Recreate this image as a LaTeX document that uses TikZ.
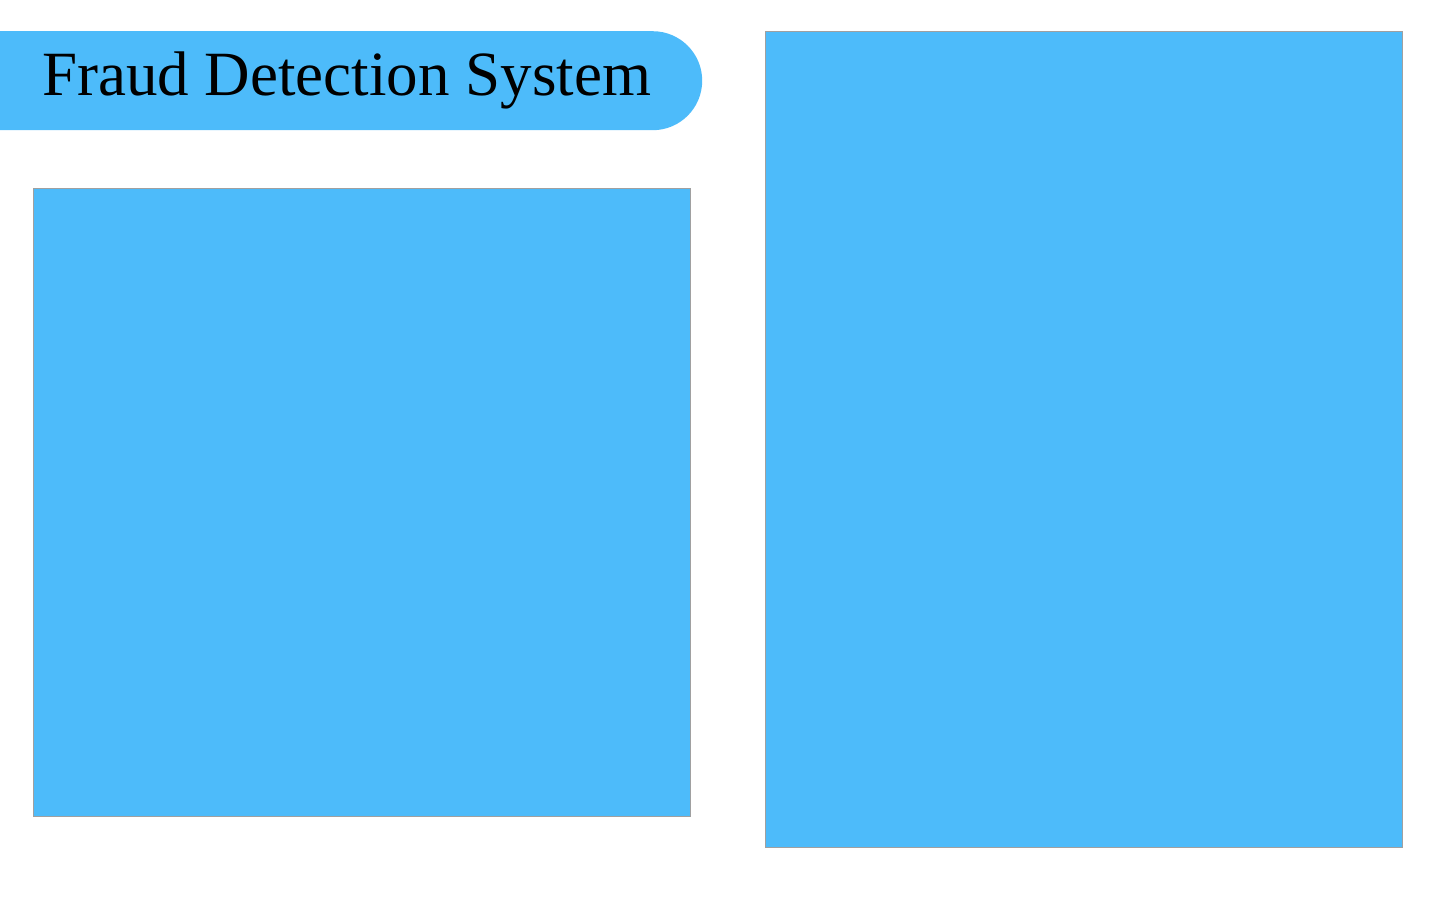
\documentclass[tikz,border=0pt]{standalone}
\usepackage{fontspec}
\setmainfont{Liberation Serif}
\usetikzlibrary{shapes.misc}
\definecolor{skyfill}{HTML}{4DBBFA}
\definecolor{panelline}{HTML}{A0A0A0}

\begin{document}
\begin{tikzpicture}[
		x=1pt, y=-1pt,
		title/.style={rounded rectangle, rounded rectangle left arc=none,
			fill=skyfill, inner sep=0pt, anchor=north west,
			minimum width=702pt, minimum height=99pt,
			font=\fontsize{63}{72}\selectfont},
		panel/.style={rectangle, fill=skyfill, draw=panelline, line width=1pt,
			inner sep=0pt, outer sep=0pt, anchor=north west}
		]
		\useasboundingbox (0,0) rectangle (1440,900);
		\node[title] (heading) at (0,31) {Fraud Detection System};
		\node[panel, minimum width=657pt, minimum height=628pt] (leftpanel) at (33,188) {};
		\node[panel, minimum width=637pt, minimum height=816pt] (rightpanel) at (765,31) {};
	\end{tikzpicture}
\end{document}
